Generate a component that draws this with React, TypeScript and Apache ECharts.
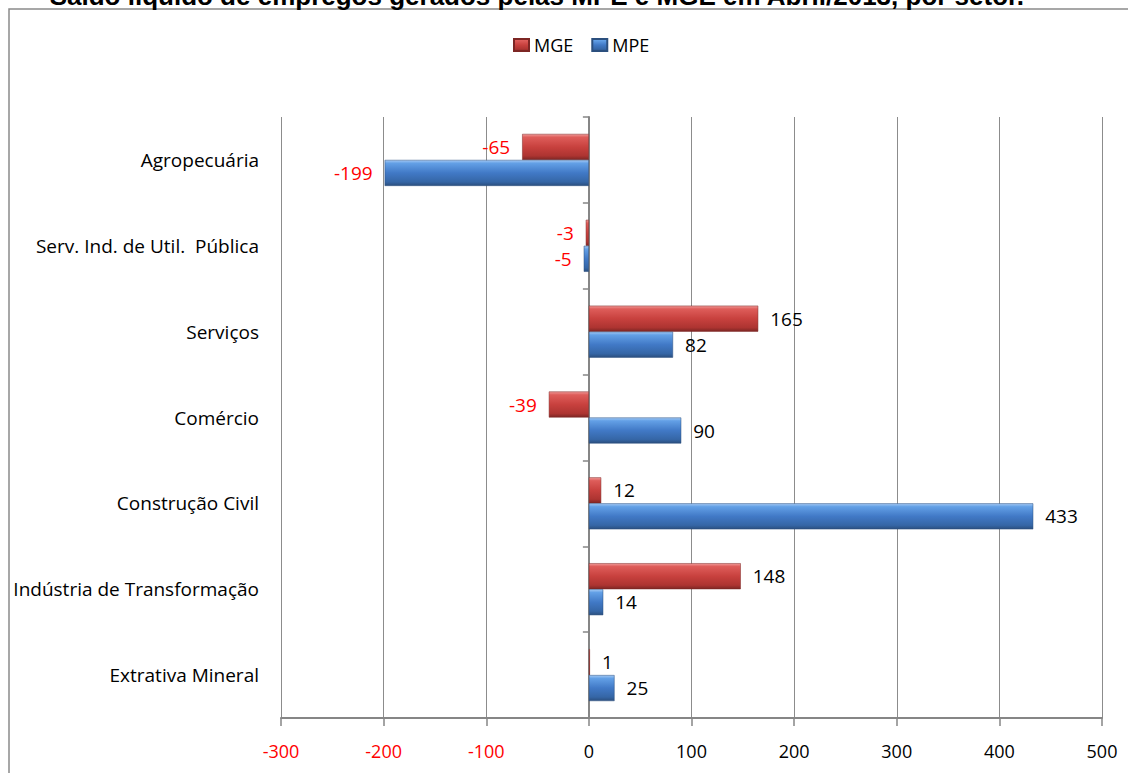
import React, { useEffect, useRef } from "react";
import * as echarts from "echarts";

const categories = [
  "Extrativa Mineral",
  "Indústria de Transformação",
  "Construção Civil",
  "Comércio",
  "Serviços",
  "Serv. Ind. de Util.  Pública",
  "Agropecuária",
];
const mgeValues = [1, 148, 12, -39, 165, -3, -65];
const mpeValues = [25, 14, 433, 90, 82, -5, -199];
const legendNames = ["MGE", "MPE"];
const titleText = "– Saldo líquido de empregos gerados pelas MPE e MGE em Abril/2013, por setor.";

const FONT = "'Open Sans', 'Noto Sans', sans-serif";

function toItems(vals: number[]) {
  return vals.map((v) => ({
    value: v,
    label: {
      position: v < 0 ? "left" : "right",
      color: v < 0 ? "#FF0000" : "#000000",
    },
  }));
}

export default function App() {
  const ref = useRef<HTMLDivElement>(null);
  useEffect(() => {
    if (!ref.current) return;
    const chart = echarts.init(ref.current, null, { renderer: "svg" });
    const redGrad = new echarts.graphic.LinearGradient(0, 0, 0, 1, [
      { offset: 0, color: "#f09a98" },
      { offset: 0.12, color: "#de5d5a" },
      { offset: 0.5, color: "#c8413e" },
      { offset: 0.85, color: "#ad3431" },
      { offset: 1, color: "#7d2624" },
    ]);
    const blueGrad = new echarts.graphic.LinearGradient(0, 0, 0, 1, [
      { offset: 0, color: "#a4c9f4" },
      { offset: 0.12, color: "#63a0e6" },
      { offset: 0.5, color: "#4179c6" },
      { offset: 0.85, color: "#3566a6" },
      { offset: 1, color: "#2b4f7e" },
    ]);
    const labelCommon = {
      show: true,
      distance: 12,
      fontFamily: FONT,
      fontSize: 19,
    };
    chart.setOption({
      animation: false,
      textStyle: { fontFamily: FONT },
      graphic: [
        {
          type: "rect",
          shape: { x: 9, y: 9, width: 1140, height: 800 },
          style: { fill: "none", stroke: "#8a8a8a", lineWidth: 1.5 },
          silent: true,
        },
        {
          type: "text",
          x: 28,
          y: 9,
          style: {
            text: titleText,
            fontFamily: "'Liberation Sans', Arial, sans-serif",
            fontWeight: "bold",
            fontSize: 26,
            fill: "#000",
            verticalAlign: "bottom",
          },
          silent: true,
        },
      ],
      legend: {
        data: legendNames,
        left: 508,
        top: 31,
        icon: "rect",
        itemWidth: 15,
        itemHeight: 12,
        itemGap: 18,
        textStyle: { fontFamily: FONT, fontSize: 18, color: "#000" },
      },
      grid: {
        left: 281,
        right: 26,
        top: 117,
        bottom: 55,
        containLabel: false,
        outerBoundsMode: "none",
      },
      xAxis: {
        type: "value",
        min: -300,
        max: 500,
        interval: 100,
        axisLine: { show: true, lineStyle: { color: "#868686", width: 2 } },
        axisTick: { show: true, length: 8, lineStyle: { color: "#868686", width: 1.5 } },
        splitLine: { show: true, lineStyle: { color: "#8c8c8c", width: 1 } },
        axisLabel: {
          margin: 24,
          fontFamily: FONT,
          fontSize: 18,
          color: (val: any) => (Number(val) < 0 ? "#FF0000" : "#000000"),
        },
      },
      yAxis: {
        type: "category",
        data: categories,
        axisLine: { show: true, onZero: true, lineStyle: { color: "#868686", width: 2 } },
        axisTick: { show: true, length: 6, lineStyle: { color: "#868686", width: 1.5 } },
        splitLine: { show: false },
        axisLabel: {
          margin: 22,
          fontFamily: FONT,
          fontSize: 19,
          color: "#000",
        },
      },
      series: [
        {
          name: "MGE",
          type: "bar",
          data: toItems(mgeValues),
          barWidth: 26,
          barGap: "0%",
          itemStyle: { color: redGrad, borderColor: "#7d2624", borderWidth: 0.5 },
          label: labelCommon,
        },
        {
          name: "MPE",
          type: "bar",
          data: toItems(mpeValues),
          barWidth: 26,
          barGap: "0%",
          itemStyle: { color: blueGrad, borderColor: "#2b4f7e", borderWidth: 0.5 },
          label: labelCommon,
        },
      ],
    });
    return () => chart.dispose();
  }, []);
  return (
    <div
      ref={ref}
      style={{ position: "absolute", left: 0, top: 0, width: 1128, height: 773 }}
    />
  );
}
